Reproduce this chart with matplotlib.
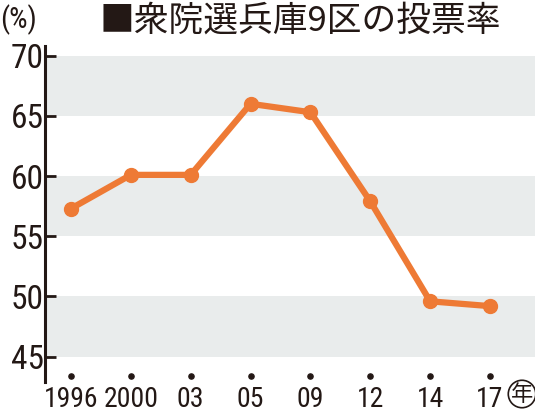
import matplotlib.pyplot as plt
from matplotlib import font_manager

# pick a narrow latin font if one is installed
narrow = "Roboto"
for name in ["Liberation Sans Narrow", "Roboto Condensed", "Open Sans Condensed"]:
    try:
        font_manager.findfont(name, fallback_to_default=False)
        narrow = name
        break
    except Exception:
        pass

plt.rcParams['font.family'] = [narrow, 'Noto Sans CJK JP', 'DejaVu Sans']

years = ["1996", "2000", "03", "05", "09", "12", "14", "17"]
turnout = [57.3, 60.1, 60.1, 66.0, 65.3, 57.9, 49.6, 49.2]
yticks = [45, 50, 55, 60, 65, 70]
bands = [(45, 50), (55, 60), (65, 70)]

fig = plt.figure(figsize=(5.35, 4.15), dpi=100)
ax = fig.add_axes([45 / 535, (415 - 382) / 415, 490 / 535, (382 - 46) / 415])

xs = list(range(len(years)))
step = 419 / 7
ax.set_xlim(-26 / step, 7 + 45 / step)
ax.set_ylim(42.9, 70.8)

for lo, hi in bands:
    ax.axhspan(lo, hi, color="#e9ecec", lw=0, zorder=0)

ax.plot(xs, turnout, color="#ee7a35", lw=4.5, marker="o", ms=10,
        solid_joinstyle="round", zorder=3)

# black dots under each year
ax.scatter(xs, [43.4] * len(xs), s=14, color="#231815", clip_on=False, zorder=3)

for s in ["top", "right", "bottom"]:
    ax.spines[s].set_visible(False)
ax.spines["left"].set_linewidth(2.2)
ax.spines["left"].set_color("#231815")

fs = 1.0 if narrow != "Roboto" else 0.82
ax.set_yticks(yticks)
ax.set_yticklabels([str(v) for v in yticks], fontsize=24 * fs, color="#231815")
ax.tick_params(axis="y", direction="in", length=8, width=2, color="#231815", pad=1)

ax.set_xticks(xs)
ax.set_xticklabels(years, fontsize=20 * fs, color="#231815")
ax.tick_params(axis="x", length=0, pad=3)

fig.text(522 / 535, 1 - 394 / 415, "年", fontsize=16, ha="center", va="center",
         family=["Noto Sans CJK JP"], color="#231815",
         bbox=dict(boxstyle="circle,pad=0.1", fc="none", ec="#231815", lw=1.2))

fig.text(0, 1 - 20 / 415, "(%)", fontsize=21 * fs, ha="left", va="center",
         color="#231815")
fig.text(100 / 535, 1 - 21 / 415, "■衆院選兵庫9区の投票率", fontsize=25, ha="left", va="center",
         family=["Noto Sans CJK JP"], color="#231815")

fig.savefig("out.png", dpi=100)
